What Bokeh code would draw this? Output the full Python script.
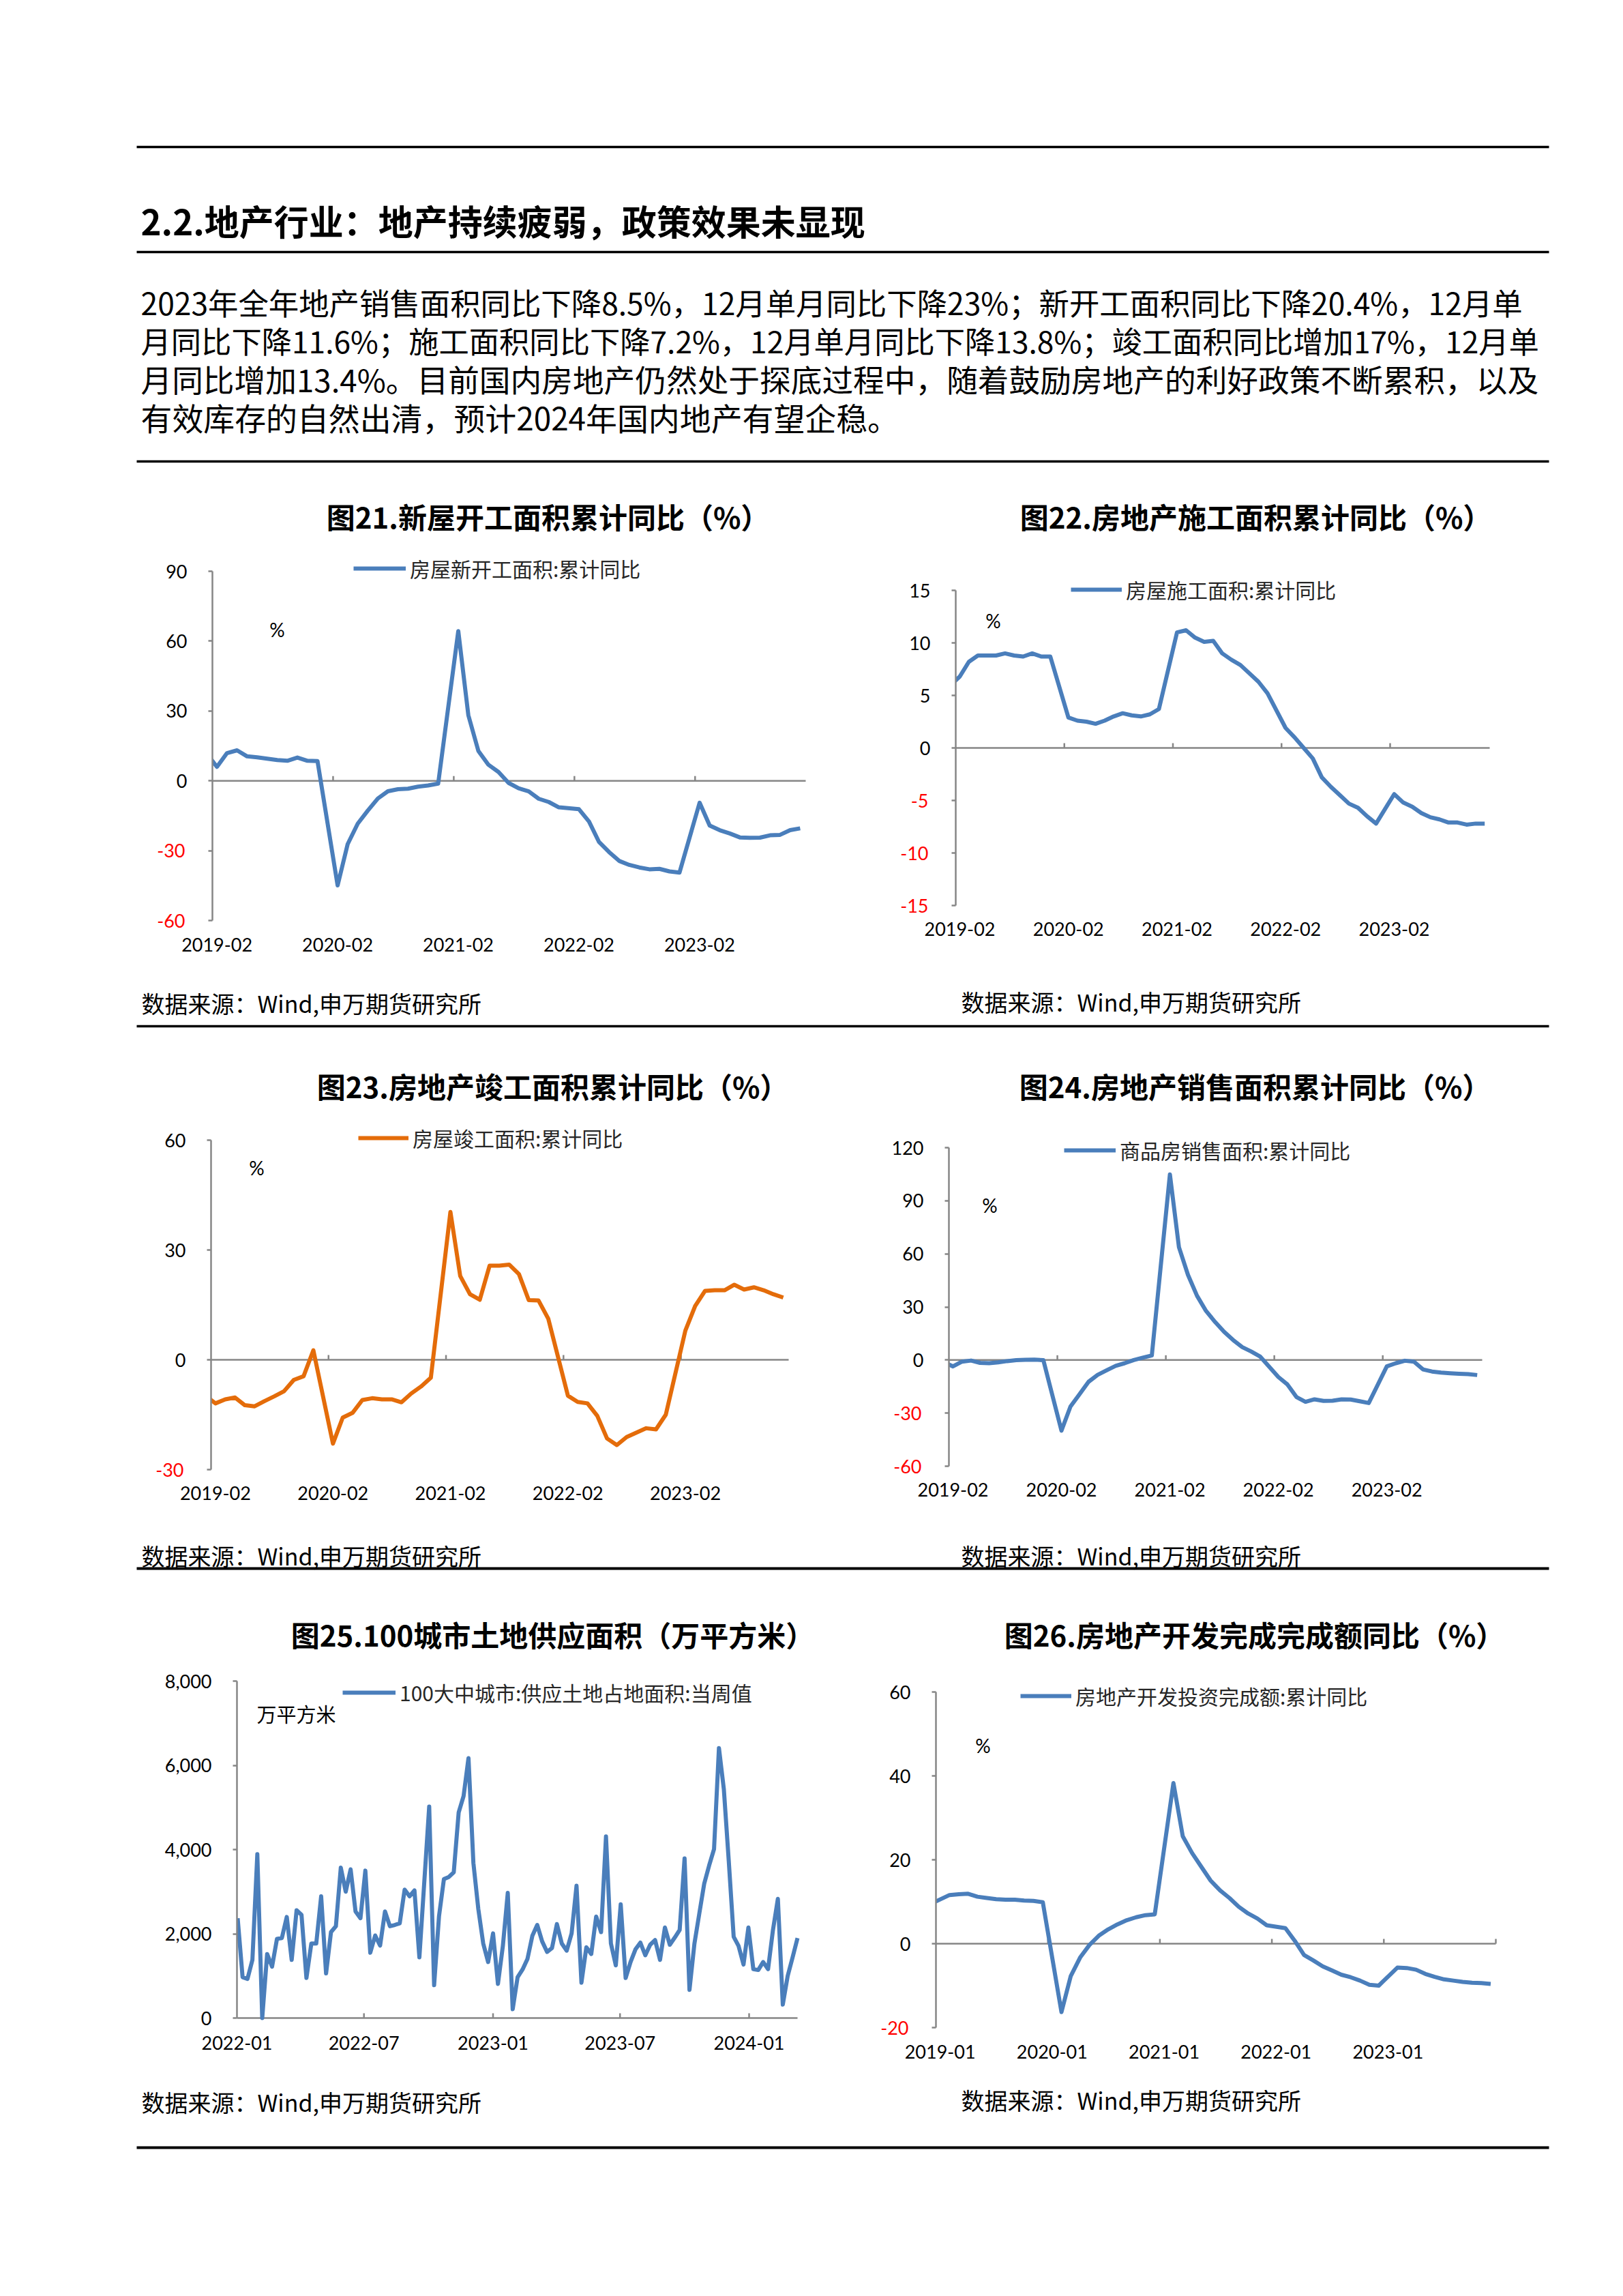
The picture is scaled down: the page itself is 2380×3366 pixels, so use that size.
import datetime as dt
from bokeh.plotting import figure
from bokeh.models import (Range1d, Label, FixedTicker, Legend, LegendItem, LinearAxis,
                          DatetimeTickFormatter, CustomJSTickFormatter, NumeralTickFormatter)
from bokeh.layouts import column, row
from bokeh.embed import file_html
from bokeh.resources import INLINE

CJK = "Noto Sans CJK SC"
NUM = "Lato"
BLUE = "#4A7EBB"
ORANGE = "#E46C0A"
GRAY = "#868686"
RED = "#FF0000"
PAGE_W = 2372

# ---------------- text content ----------------
heading = "2.2.地产行业：地产持续疲弱，政策效果未显现"
paragraph = [
    "2023年全年地产销售面积同比下降8.5%，12月单月同比下降23%；新开工面积同比下降20.4%，12月单",
    "月同比下降11.6%；施工面积同比下降7.2%，12月单月同比下降13.8%；竣工面积同比增加17%，12月单",
    "月同比增加13.4%。目前国内房地产仍然处于探底过程中，随着鼓励房地产的利好政策不断累积，以及",
    "有效库存的自然出清，预计2024年国内地产有望企稳。",
]
source_text = "数据来源：Wind,申万期货研究所"

# ---------------- data ----------------
months = ["2018-12"] + [f"{y}-{m:02d}" for y in range(2019, 2024) for m in range(2, 13)]

new_start_yoy = [17.2,
    6.0, 11.9, 13.1, 10.5, 10.1, 9.5, 8.9, 8.6, 10.0, 8.6, 8.5,
    -44.9, -27.2, -18.4, -12.8, -7.6, -4.5, -3.6, -3.4, -2.5, -2.0, -1.2,
    64.3, 28.2, 12.8, 6.9, 3.8, -0.9, -3.2, -4.5, -7.7, -9.1, -11.4,
    -12.2, -17.5, -26.3, -30.6, -34.4, -36.1, -37.2, -38.0, -37.8, -38.9, -39.4,
    -9.4, -19.2, -21.2, -22.6, -24.3, -24.5, -24.4, -23.4, -23.2, -21.2, -20.4]

under_constr_yoy = [5.2,
    6.8, 8.2, 8.8, 8.8, 8.8, 9.0, 8.8, 8.7, 9.0, 8.7, 8.7,
    2.9, 2.6, 2.5, 2.3, 2.6, 3.0, 3.3, 3.1, 3.0, 3.2, 3.7,
    11.0, 11.2, 10.5, 10.1, 10.2, 9.0, 8.4, 7.9, 7.1, 6.3, 5.2,
    1.9, 1.0, 0.0, -1.0, -2.8, -3.7, -4.5, -5.3, -5.7, -6.5, -7.2,
    -4.4, -5.2, -5.6, -6.2, -6.6, -6.8, -7.1, -7.1, -7.3, -7.2, -7.2]

completed_yoy = [-7.8,
    -11.9, -10.8, -10.3, -12.4, -12.7, -11.3, -10.0, -8.6, -5.5, -4.5, 2.6,
    -22.9, -15.8, -14.5, -11.0, -10.5, -10.8, -10.8, -11.6, -9.2, -7.3, -4.9,
    40.4, 22.9, 17.9, 16.4, 25.7, 25.7, 26.0, 23.4, 16.3, 16.2, 11.2,
    -9.8, -11.5, -11.9, -15.3, -21.5, -23.3, -21.1, -19.9, -18.7, -19.0, -15.0,
    8.0, 14.7, 18.8, 19.0, 19.0, 20.5, 19.2, 19.8, 19.0, 17.9, 17.0]

sales_yoy = [1.3,
    -3.6, -0.9, -0.3, -1.6, -1.8, -1.3, -0.6, -0.1, 0.1, 0.2, -0.1,
    -39.9, -26.3, -19.3, -12.3, -8.4, -5.8, -3.3, -1.8, 0.0, 1.3, 2.6,
    104.9, 63.8, 48.1, 36.3, 27.7, 21.5, 15.9, 11.3, 7.3, 4.8, 1.9,
    -9.6, -13.8, -20.9, -23.6, -22.2, -23.1, -23.0, -22.2, -22.3, -23.3, -24.3,
    -3.6, -1.8, -0.4, -0.9, -5.3, -6.5, -7.1, -7.5, -7.8, -8.0, -8.5]

invest_yoy = [9.5,
    11.6, 11.8, 11.9, 11.2, 10.9, 10.6, 10.5, 10.5, 10.3, 10.2, 9.9,
    -16.3, -7.7, -3.3, -0.3, 1.9, 3.4, 4.6, 5.6, 6.3, 6.8, 7.0,
    38.3, 25.6, 21.6, 18.3, 15.0, 12.7, 10.9, 8.8, 7.2, 6.0, 4.4,
    3.7, 0.7, -2.7, -4.0, -5.4, -6.4, -7.4, -8.0, -8.8, -9.8, -10.0,
    -5.7, -5.8, -6.2, -7.2, -7.9, -8.5, -8.8, -9.1, -9.3, -9.4, -9.6]

labels_feb = ["2019-02", "2020-02", "2021-02", "2022-02", "2023-02"]
labels_jan = ["2019-01", "2020-01", "2021-01", "2022-01", "2023-01"]

land_first_week = "2022-01-02"
land_supply = [
    2370, 970, 930, 1380, 3890, 0, 1520, 1220, 1880, 1900,
    2400, 1380, 2560, 2450, 950, 1770, 1770, 2890, 1060, 2040,
    2180, 3570, 3000, 3530, 2530, 2370, 3500, 1550, 1960, 1720,
    2530, 2180, 2210, 2250, 3050, 2890, 3030, 1440, 3230, 5020,
    780, 2420, 3300, 3350, 3460, 4880, 5270, 6170, 3680, 2590,
    1770, 1330, 2010, 810, 1710, 2970, 210, 970, 1150, 1400,
    1950, 2210, 1820, 1570, 1660, 2230, 1770, 1600, 2010, 3140,
    840, 1680, 1520, 2410, 2040, 4310, 1770, 1250, 2700, 950,
    1330, 1630, 1790, 1490, 1740, 1850, 1380, 2150, 1740, 1910,
    2090, 3790, 670, 1760, 2480, 3190, 3620, 4010, 6410, 5430,
    3730, 1930, 1710, 1270, 2150, 1160, 1140, 1330, 1160, 2090,
    2830, 320, 1000, 1440, 1900]
land_tick_dates = ["2022-01-01", "2022-07-01", "2023-01-01", "2023-07-01", "2024-01-01"]

EPOCH = dt.datetime(1970, 1, 1)


def ms(d):
    return (d - EPOCH).total_seconds() * 1000.0


def midx(s, base):
    y, m = map(int, s.split("-"))
    by, bm = map(int, base.split("-"))
    return (y - by) * 12 + (m - bm)


BB = 60            # common bottom border (x-axis label panel)
TICK_FS = 27       # tick label font size (px)
DIGIT_W = 0.58     # Lato digit advance (em)
TITLE_DX = 10      # title nudge (px)


def chart(spec, row_top, fb, col_left, col_right):
    fl, pt, fr, pb = spec["plot"]          # plot area in page pixels
    xa0, xa1 = spec["xspan"]               # data x at fl and fr
    ylo, yhi, ystep = spec["yr"]
    ticks = list(range(ylo, yhi + 1, ystep))
    ppu_y = (pb - pt) / (yhi - ylo)
    yr = Range1d(ylo - (fb - pb) / ppu_y, yhi + (pt - row_top) / ppu_y)
    ppu_x = (fr - fl) / (xa1 - xa0)
    xr = Range1d(xa0, xa0 + (col_right - fl) / ppu_x)
    height = fb + BB - row_top
    frame = (fl, row_top, col_right, fb)

    p = figure(width=col_right - col_left, height=height, x_range=xr, y_range=yr,
               min_border_left=fl - col_left, min_border_right=0, min_border_top=0,
               min_border_bottom=BB, output_backend="svg", toolbar_location=None,
               x_axis_type=spec.get("xtype", "linear"))
    p.grid.visible = False
    p.outline_line_color = None

    # baseline (value 0) with its upward tick marks
    tl = 7 / ppu_y
    p.segment(x0=[xa0], y0=[0], x1=[xa1], y1=[0], line_color=GRAY, line_width=2.5)
    tx = spec["base_ticks"]
    p.segment(x0=tx, y0=[0] * len(tx), x1=tx, y1=[tl] * len(tx), line_color=GRAY,
              line_width=2.5)

    r = p.line(spec["x"], spec["values"], line_color=spec["color"], line_width=6,
               line_join="round")

    ya = p.yaxis[0]
    ya.ticker = FixedTicker(ticks=ticks)
    ya.bounds = (ylo, yhi)
    ya.axis_line_color = GRAY
    ya.axis_line_width = 2.5
    ya.major_tick_line_color = GRAY
    ya.major_tick_line_width = 2.5
    ya.major_tick_out = 6
    ya.major_tick_in = 0
    ya.minor_tick_line_color = None
    ya.major_label_standoff = 31
    ya.major_label_text_font = NUM
    ya.major_label_text_font_size = f"{TICK_FS}px"
    ya.major_label_text_color = "black"
    if spec.get("thousands"):
        ya.formatter = NumeralTickFormatter(format="0,0")
    else:
        ya.formatter = CustomJSTickFormatter(code="return tick < 0 ? '' : tick.toFixed(0);")

    neg = [t for t in ticks if t < 0]
    if neg:
        # second (outer) left axis carrying the red negative labels, pulled back
        # so that its labels line up with the black ones
        wmax = max(len(str(t)) for t in ticks if t >= 0) * DIGIT_W * TICK_FS
        inner = round(6 + 31 + wmax)
        rax = LinearAxis(ticker=FixedTicker(ticks=neg),
                         axis_line_color=None, major_tick_line_color=None,
                         minor_tick_line_color=None, major_tick_out=0, major_tick_in=0,
                         major_label_standoff=37 - inner, major_label_text_color=RED,
                         major_label_text_font=NUM, major_label_text_font_size=f"{TICK_FS}px",
                         formatter=CustomJSTickFormatter(code="return tick.toFixed(0);"))
        p.add_layout(rax, "left")

    xa = p.xaxis[0]
    xa.ticker = FixedTicker(ticks=spec["label_pos"])
    if spec.get("xtype") == "datetime":
        xa.formatter = DatetimeTickFormatter(days="%Y-%m", months="%Y-%m", years="%Y-%m")
    else:
        xa.major_label_overrides = {k: v for k, v in zip(spec["label_pos"], spec["labels"])}
    xa.axis_line_color = None
    xa.major_tick_line_color = None
    xa.minor_tick_line_color = None
    xa.major_tick_in = 0
    xa.major_tick_out = 0
    xa.major_label_standoff = int(round(spec["xlab_y"] - fb - 15))
    xa.major_label_text_font = NUM
    xa.major_label_text_font_size = f"{TICK_FS}px"
    xa.major_label_text_color = "black"

    def put(x, y, text, size, font=CJK, bold=False, align="left", color="black"):
        p.add_layout(Label(x=x - frame[0], y=frame[3] - y, x_units="screen", y_units="screen",
                           text=text, text_font=font, text_font_size=f"{size}px",
                           text_font_style="bold" if bold else "normal",
                           text_color=color, text_align=align, text_baseline="middle"))

    lx0, lx1, ly = spec["leg"]
    h = 44
    p.add_layout(Legend(items=[LegendItem(label=spec["legend"], renderers=[r])],
                        location=(lx0 - fl, fb - (ly + h / 2)), orientation="horizontal",
                        glyph_width=lx1 - lx0, glyph_height=h, label_height=h,
                        label_standoff=6, padding=0, margin=0, spacing=0,
                        border_line_color=None, background_fill_alpha=0,
                        label_text_font=CJK, label_text_font_size="30px",
                        label_text_color="#262626"))
    put(spec["title_xy"][0] + TITLE_DX, spec["title_xy"][1], spec["title"], 42, bold=True,
        align="center")
    unit_text, ux, uy, ufont, ualign = spec["unit"]
    put(ux, uy, unit_text, 28 if ufont == NUM else 29, font=ufont, align=ualign)
    return p


def month_spec(values, base, labels, xend, **kw):
    x0 = -0.45
    lab_pos = [midx(lb, base) for lb in labels]
    base_ticks = [lp + x0 for lp in lab_pos[1:]]
    if kw.pop("end_tick", False):
        base_ticks.append(xend)
    d = dict(x=[midx(m, base) for m in months], values=values, xspan=(x0, xend),
             label_pos=lab_pos, labels=labels, base_ticks=base_ticks)
    d.update(kw)
    return d


s21 = month_spec(new_start_yoy, "2019-02", labels_feb, 58.55, plot=(311, 837, 1181, 1349),
                 yr=(-60, 90, 30), color=BLUE, legend="房屋新开工面积:累计同比",
                 leg=(518, 595, 833), title="图21.新屋开工面积累计同比（%）", title_xy=(793, 756),
                 unit=("%", 406, 922, NUM, "center"), xlab_y=1389)
s22 = month_spec(under_constr_yoy, "2019-02", labels_feb, 58.55, plot=(1401, 865, 2184, 1327),
                 yr=(-15, 15, 5), color=BLUE, legend="房屋施工面积:累计同比",
                 leg=(1570, 1645, 864), title="图22.房地产施工面积累计同比（%）", title_xy=(1831, 756),
                 unit=("%", 1456, 909, NUM, "center"), xlab_y=1366)
s23 = month_spec(completed_yoy, "2019-02", labels_feb, 58.55, plot=(309, 1671, 1156, 2154),
                 yr=(-30, 60, 30), color=ORANGE, legend="房屋竣工面积:累计同比",
                 leg=(525, 599, 1668), title="图23.房地产竣工面积累计同比（%）", title_xy=(800, 1591),
                 unit=("%", 376, 1711, NUM, "center"), xlab_y=2193)
s24 = month_spec(sales_yoy, "2019-02", labels_feb, 58.55, plot=(1391, 1682, 2173, 2149),
                 yr=(-60, 120, 30), color=BLUE, legend="商品房销售面积:累计同比",
                 leg=(1560, 1636, 1686), title="图24.房地产销售面积累计同比（%）", title_xy=(1830, 1591),
                 unit=("%", 1451, 1766, NUM, "center"), xlab_y=2188)
s26 = month_spec(invest_yoy, "2019-01", labels_jan, 59.55, end_tick=True,
                 plot=(1372, 2480, 2193, 2972),
                 yr=(-20, 60, 20), color=BLUE, legend="房地产开发投资完成额:累计同比",
                 leg=(1496, 1571, 2486), title="图26.房地产开发完成完成额同比（%）", title_xy=(1829, 2395),
                 unit=("%", 1441, 2558, NUM, "center"), xlab_y=3012)

start_week = dt.datetime.strptime(land_first_week, "%Y-%m-%d")
land_dates = [start_week + dt.timedelta(days=7 * i) for i in range(len(land_supply))]
tick_dates = [dt.datetime.strptime(s, "%Y-%m-%d") for s in land_tick_dates]
s25 = dict(x=land_dates, values=land_supply, xspan=(ms(tick_dates[0]), ms(land_dates[-1])),
           xtype="datetime", label_pos=[ms(d) for d in tick_dates], labels=land_tick_dates,
           base_ticks=[ms(d) for d in tick_dates[1:]], plot=(347, 2464, 1169, 2958),
           yr=(0, 8000, 2000), color=BLUE, legend="100大中城市:供应土地占地面积:当周值",
           leg=(502, 580, 2481), title="图25.100城市土地供应面积（万平方米）", title_xy=(800, 2395),
           unit=("万平方米", 376, 2511, CJK, "left"), xlab_y=2999, thousands=True)


# ---------------- page furniture ----------------
def page_strip(top, bottom):
    p = figure(width=PAGE_W, height=bottom - top, x_range=Range1d(0, PAGE_W),
               y_range=Range1d(bottom, top), output_backend="svg", toolbar_location=None,
               min_border=0, x_axis_location=None, y_axis_location=None)
    p.min_border_left = p.min_border_right = p.min_border_top = p.min_border_bottom = 0
    p.grid.visible = False
    p.outline_line_color = None
    return p


def rule(p, y, w=3.5):
    p.segment(x0=[200], y0=[y], x1=[2271], y1=[y], line_color="black", line_width=w)


def text(p, x, y, t, size, bold=False):
    p.add_layout(Label(x=x, y=y, text=t, text_font=CJK, text_font_size=f"{size}px",
                       text_font_style="bold" if bold else "normal", text_color="black",
                       text_baseline="middle"))


hdr = page_strip(0, 690)
rule(hdr, 215)
rule(hdr, 369)
rule(hdr, 676)
text(hdr, 206, 322, heading, 51, bold=True)
# per-line sizes approximate the justified block of the original
para_sizes = [44.4, 44.3, 45.7, 45.9]
for i, line in enumerate(paragraph):
    text(hdr, 206, 442 + 56 * i, line, para_sizes[i])

# row 1
R1_TOP, R1_FB = 690, 1365
c21 = chart(s21, R1_TOP, R1_FB, 0, 1240)
c22 = chart(s22, R1_TOP, R1_FB, 1240, PAGE_W)
st1 = page_strip(R1_FB + BB, 1512)
text(st1, 207, 1470, source_text, 34)
text(st1, 1409, 1468, source_text, 34)
rule(st1, 1504)

# row 2
R2_TOP, R2_FB = 1512, 2170
c23 = chart(s23, R2_TOP, R2_FB, 0, 1240)
c24 = chart(s24, R2_TOP, R2_FB, 1240, PAGE_W)
st2 = page_strip(R2_FB + BB, 2305)
text(st2, 207, 2280, source_text, 34)
text(st2, 1409, 2280, source_text, 34)
rule(st2, 2299, 4)

# row 3
R3_TOP, R3_FB = 2305, 2988
c25 = chart(s25, R3_TOP, R3_FB, 0, 1240)
c26 = chart(s26, R3_TOP, R3_FB, 1240, PAGE_W)
st3 = page_strip(R3_FB + BB, 3165)
text(st3, 207, 3081, source_text, 34)
text(st3, 1409, 3078, source_text, 34)
rule(st3, 3148, 4)

layout = column(hdr, row(c21, c22), st1, row(c23, c24), st2, row(c25, c26), st3)
open("out.html", "w").write(file_html(layout, INLINE))
